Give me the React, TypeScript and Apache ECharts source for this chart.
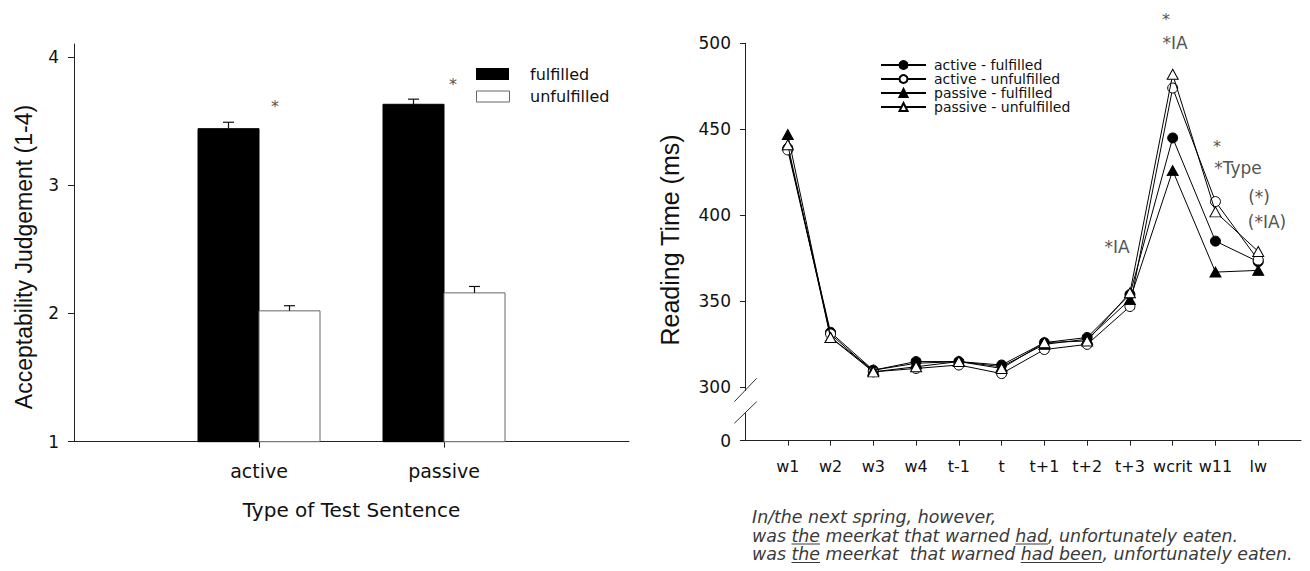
import React, { useEffect, useRef } from "react";
import * as echarts from "echarts";

// ---------- Left panel: acceptability judgements ----------
const barCategories = ["active", "passive"];
const barSeriesNames = ["fulfilled", "unfulfilled"];
const fulfilledMeans = [3.44, 3.63];
const fulfilledErr = [0.05, 0.04];
const unfulfilledMeans = [2.02, 2.16];
const unfulfilledErr = [0.04, 0.05];
const barYTicks = [1, 2, 3, 4];
const barCategoryPositions = [1, 2];

// ---------- Right panel: reading times ----------
const words = ["w1", "w2", "w3", "w4", "t-1", "t", "t+1", "t+2", "t+3", "wcrit", "w11", "lw"];
const lineSeriesNames = ["active - fulfilled", "active - unfulfilled", "passive - fulfilled", "passive - unfulfilled"];
const activeFulfilled = [439, 332, 310, 315, 315, 313, 326, 329, 354, 445, 385, 373];
const activeUnfulfilled = [438, 331, 309, 311, 313, 308, 322, 325, 347, 474, 408, 374];
const passiveFulfilled = [447, 329, 310, 314, 315, 312, 325, 328, 351, 426, 367, 368];
const passiveUnfulfilled = [441, 329, 309, 312, 315, 311, 326, 327, 355, 482, 402, 379];
// the lowest tick sits below an axis break and is labelled "0"
const rtTickValues = [269, 300, 350, 400, 450, 500];
const rtTickLabels = ["0", "300", "350", "400", "450", "500"];

const bottomLines: [string, boolean][][] = [
  [["In/the next spring, however,", false]],
  [["was ", false], ["the", true], [" meerkat that warned ", false], ["had", true], [", unfortunately eaten.", false]],
  [["was ", false], ["the", true], [" meerkat  that warned ", false], ["had been", true], [", unfortunately eaten.", false]],
];

const SANS = "DejaVu Sans";
const BAR_W = 61;

function barRenderer(side: number, fill: string, stroke: string) {
  return (params: any, api: any) => {
    const x = api.value(0);
    const v = api.value(1);
    const e = api.value(2);
    const top = api.coord([x, v]);
    const base = api.coord([x, 1]);
    const errTop = api.coord([x, v + e]);
    const left = side < 0 ? top[0] - BAR_W : top[0];
    const cx = left + BAR_W / 2;
    return {
      type: "group",
      children: [
        { type: "rect", shape: { x: left, y: top[1], width: BAR_W, height: base[1] - top[1] }, style: { fill, stroke, lineWidth: 1 } },
        { type: "line", shape: { x1: cx, y1: top[1], x2: cx, y2: errTop[1] }, style: { stroke: "#111", lineWidth: 1.2 } },
        { type: "line", shape: { x1: cx - 5.5, y1: errTop[1], x2: cx + 5.5, y2: errTop[1] }, style: { stroke: "#111", lineWidth: 1.2 } },
      ],
    };
  };
}

export default function App() {
  const ref = useRef<HTMLDivElement>(null);
  useEffect(() => {
    if (!ref.current) return;
    const chart = echarts.init(ref.current, null, { renderer: "svg" });

    // measure text for underlines
    const canvas = document.createElement("canvas");
    const ctx = canvas.getContext("2d")!;
    const bottomFont = `italic 17.4px "${SANS}"`;
    ctx.font = bottomFont;
    const textX = 752;
    const lineYs = [517, 535.5, 554];
    const bottomGraphics: any[] = [];
    bottomLines.forEach((parts, li) => {
      const full = parts.map((p) => p[0]).join("");
      bottomGraphics.push({
        type: "text",
        x: textX,
        y: lineYs[li],
        style: { text: full, font: bottomFont, fill: "#3a3a3a", textAlign: "left", textVerticalAlign: "middle" },
      });
      let prefix = "";
      parts.forEach(([t, u]) => {
        if (u) {
          const x1 = textX + ctx.measureText(prefix).width;
          const x2 = textX + ctx.measureText(prefix + t).width;
          bottomGraphics.push({
            type: "line",
            shape: { x1, y1: lineYs[li] + 8.5, x2, y2: lineYs[li] + 8.5 },
            style: { stroke: "#3a3a3a", lineWidth: 1 },
          });
        }
        prefix += t;
      });
    });

    const lineDefs = [
      { name: lineSeriesNames[0], data: activeFulfilled, symbol: "circle", fill: "#000", size: 10 },
      { name: lineSeriesNames[1], data: activeUnfulfilled, symbol: "circle", fill: "#fff", size: 10 },
      { name: lineSeriesNames[2], data: passiveFulfilled, symbol: "triangle", fill: "#000", size: [11, 10] },
      { name: lineSeriesNames[3], data: passiveUnfulfilled, symbol: "triangle", fill: "#fff", size: [11, 10] },
    ];

    const annot = (text: string, x: number, y: number, size = 17) => ({
      type: "text",
      x,
      y,
      style: { text, font: `${size}px "${SANS}"`, fill: "#555", textAlign: "center", textVerticalAlign: "middle" },
    });

    chart.setOption({
      animation: false,
      backgroundColor: "#fff",
      grid: [
        { left: 74, right: 1310 - 629, top: 44, bottom: 571 - 441.7 },
        { left: 745, right: 9, top: 43.3, bottom: 571 - 440.7 },
      ],
      xAxis: [
        {
          gridIndex: 0,
          type: "value",
          min: 0,
          max: 3,
          interval: 1,
          splitLine: { show: false },
          axisLine: { lineStyle: { color: "#222", width: 1 } },
          axisTick: { show: true, length: 6, customValues: barCategoryPositions, lineStyle: { color: "#222" } },
          axisLabel: {
            customValues: barCategoryPositions,
            formatter: (v: number) => barCategories[Math.round(v) - 1] ?? "",
            fontFamily: SANS,
            fontSize: 19,
            color: "#111",
            margin: 20,
          },
        },
        {
          gridIndex: 1,
          type: "value",
          min: 0,
          max: 13,
          interval: 1,
          splitLine: { show: false },
          axisLine: { lineStyle: { color: "#222", width: 1 } },
          axisTick: { show: true, length: 5, customValues: words.map((_, i) => i + 1), lineStyle: { color: "#222" } },
          axisLabel: {
            customValues: words.map((_, i) => i + 1),
            formatter: (v: number) => words[Math.round(v) - 1] ?? "",
            fontFamily: SANS,
            fontSize: 16,
            color: "#111",
            margin: 18,
          },
        },
      ],
      yAxis: [
        {
          gridIndex: 0,
          type: "value",
          min: 1,
          max: 4.1,
          splitLine: { show: false },
          axisLine: { show: true, lineStyle: { color: "#222", width: 1 } },
          axisTick: { show: true, length: 6, customValues: barYTicks, lineStyle: { color: "#222" } },
          axisLabel: { customValues: barYTicks, fontFamily: SANS, fontSize: 17, color: "#111", margin: 15 },
        },
        {
          gridIndex: 1,
          type: "value",
          min: rtTickValues[0],
          max: 500,
          splitLine: { show: false },
          axisLine: { show: true, lineStyle: { color: "#222", width: 1 } },
          axisTick: { show: true, length: 5, customValues: rtTickValues, lineStyle: { color: "#222" } },
          axisLabel: {
            customValues: rtTickValues,
            formatter: (v: number) => rtTickLabels[rtTickValues.indexOf(Math.round(v))] ?? "",
            fontFamily: SANS,
            fontSize: 17,
            color: "#111",
            margin: 14,
          },
        },
      ],
      legend: {
        data: lineSeriesNames,
        left: 880,
        top: 58,
        padding: 0,
        orient: "vertical",
        itemWidth: 45,
        itemHeight: 10,
        itemGap: 0,
        selectedMode: false,
        textStyle: { fontFamily: SANS, fontSize: 14, lineHeight: 14, color: "#111", padding: [0, 0, 0, 3] },
      },
      series: [
        {
          name: barSeriesNames[0],
          type: "custom",
          xAxisIndex: 0,
          yAxisIndex: 0,
          renderItem: barRenderer(-1, "#000", "#000"),
          encode: { x: 0, y: 1 },
          data: barCategories.map((_, i) => [barCategoryPositions[i], fulfilledMeans[i], fulfilledErr[i]]),
        },
        {
          name: barSeriesNames[1],
          type: "custom",
          xAxisIndex: 0,
          yAxisIndex: 0,
          renderItem: barRenderer(1, "#fff", "#666"),
          encode: { x: 0, y: 1 },
          data: barCategories.map((_, i) => [barCategoryPositions[i], unfulfilledMeans[i], unfulfilledErr[i]]),
        },
        ...lineDefs.map((d, k) => ({
          name: d.name,
          type: "line",
          xAxisIndex: 1,
          yAxisIndex: 1,
          z: 2 + k,
          symbol: d.symbol,
          symbolSize: d.size,
          showAllSymbol: true,
          itemStyle: { color: d.fill, borderColor: "#000", borderWidth: 1 },
          lineStyle: { color: "#000", width: 1 },
          emphasis: { disabled: true },
          data: d.data.map((v, i) => [i + 1, v]),
        })),
      ],
      graphic: [
        // left legend
        { type: "rect", shape: { x: 476, y: 68, width: 33, height: 12 }, style: { fill: "#000" } },
        { type: "rect", shape: { x: 476.5, y: 91, width: 33, height: 11 }, style: { fill: "#fff", stroke: "#666", lineWidth: 1 } },
        { type: "text", x: 530, y: 74, style: { text: barSeriesNames[0], font: `16px "${SANS}"`, fill: "#111", textVerticalAlign: "middle" } },
        { type: "text", x: 530, y: 96.5, style: { text: barSeriesNames[1], font: `16px "${SANS}"`, fill: "#111", textVerticalAlign: "middle" } },
        // left significance marks
        annot("*", 275, 106, 16),
        annot("*", 453, 84, 16),
        // axis titles
        {
          type: "text",
          x: 24,
          y: 257,
          rotation: Math.PI / 2,
          style: { text: "Acceptability Judgement (1-4)", font: `23px "Liberation Sans"`, fill: "#111", textAlign: "center", textVerticalAlign: "middle" },
        },
        { type: "text", x: 351.5, y: 510, style: { text: "Type of Test Sentence", font: `20px "${SANS}"`, fill: "#111", textAlign: "center", textVerticalAlign: "middle" } },
        {
          type: "text",
          x: 670,
          y: 240,
          rotation: Math.PI / 2,
          style: { text: "Reading Time (ms)", font: `25px "Liberation Sans"`, fill: "#111", textAlign: "center", textVerticalAlign: "middle" },
        },
        // axis break on the reading-time axis
        { type: "rect", shape: { x: 741, y: 391, width: 8, height: 21.5 }, style: { fill: "#fff" }, z: 100 },
        { type: "line", shape: { x1: 734.3, y1: 401.7, x2: 756.7, y2: 378.3 }, style: { stroke: "#333", lineWidth: 1 }, z: 101 },
        { type: "line", shape: { x1: 734.3, y1: 423.3, x2: 756.7, y2: 401.7 }, style: { stroke: "#333", lineWidth: 1 }, z: 101 },
        // right panel annotations
        annot("*", 1166, 19, 16),
        annot("*IA", 1175, 43),
        annot("*", 1217, 146, 16),
        annot("*Type", 1238, 168),
        annot("(*)", 1259, 197),
        annot("(*IA)", 1267, 222),
        annot("*IA", 1117, 247),
        ...bottomGraphics,
      ],
    });
    return () => chart.dispose();
  }, []);
  return <div ref={ref} style={{ position: "fixed", left: 0, top: 0, width: 1310, height: 571, background: "#fff" }} />;
}
